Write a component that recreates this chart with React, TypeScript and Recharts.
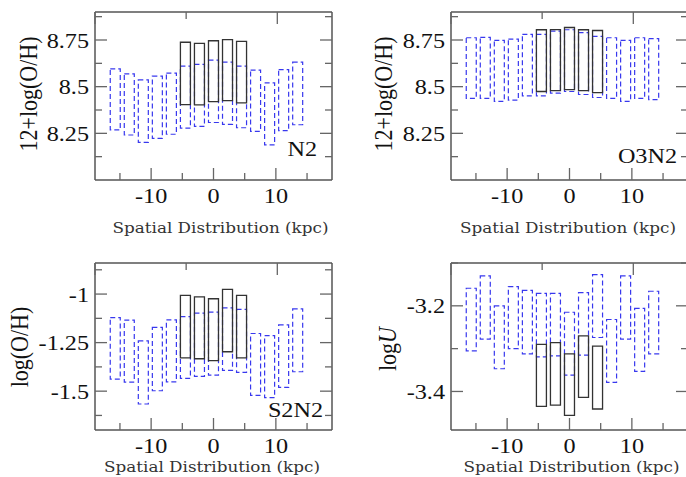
import { Bar, ComposedChart, XAxis, YAxis } from "recharts";

type Range = [number, number];

// bin centres along the disc (kpc)
const KPC = [-15.75, -13.5, -11.25, -9, -6.75, -4.5, -2.25, 0, 2.25, 4.5, 6.75, 9, 11.25, 13.5];
const CORE_KPC = [-4.5, -2.25, 0, 2.25, 4.5];

// [low, high] per bin: full sample (dashed) and inner bins (solid)
const N2_ALL: Range[] = [
  [8.268, 8.595], [8.241, 8.568], [8.202, 8.536], [8.223, 8.556], [8.245, 8.573],
  [8.278, 8.61], [8.287, 8.619], [8.308, 8.642], [8.298, 8.632], [8.28, 8.61],
  [8.261, 8.589], [8.188, 8.52], [8.264, 8.591], [8.296, 8.632],
];
const N2_CORE: Range[] = [[8.404, 8.738], [8.402, 8.732], [8.42, 8.746], [8.425, 8.752], [8.413, 8.743]];

const O3N2_ALL: Range[] = [
  [8.437, 8.762], [8.437, 8.764], [8.421, 8.748], [8.428, 8.755], [8.451, 8.78],
  [8.451, 8.78], [8.465, 8.798], [8.474, 8.805], [8.458, 8.79], [8.442, 8.769],
  [8.437, 8.762], [8.421, 8.748], [8.437, 8.762], [8.431, 8.757],
];
const O3N2_CORE: Range[] = [[8.474, 8.805], [8.479, 8.806], [8.484, 8.817], [8.479, 8.805], [8.468, 8.801]];

const S2N2_ALL: Range[] = [
  [-1.438, -1.121], [-1.453, -1.134], [-1.566, -1.241], [-1.498, -1.172], [-1.452, -1.133],
  [-1.434, -1.116], [-1.424, -1.098], [-1.417, -1.093], [-1.393, -1.071], [-1.403, -1.079],
  [-1.522, -1.203], [-1.533, -1.214], [-1.481, -1.159], [-1.4, -1.076],
];
const S2N2_CORE: Range[] = [[-1.329, -1.007], [-1.333, -1.014], [-1.343, -1.024], [-1.297, -0.976], [-1.329, -1.007]];

const LOGU_ALL: Range[] = [
  [-3.305, -3.159], [-3.278, -3.13], [-3.347, -3.2], [-3.3, -3.155], [-3.312, -3.164],
  [-3.319, -3.171], [-3.317, -3.171], [-3.362, -3.215], [-3.315, -3.169], [-3.274, -3.127],
  [-3.379, -3.232], [-3.278, -3.13], [-3.353, -3.206], [-3.312, -3.166],
];
const LOGU_CORE: Range[] = [[-3.435, -3.29], [-3.432, -3.286], [-3.456, -3.312], [-3.414, -3.27], [-3.441, -3.294]];

const X_TICKS = [-15, -10, -5, 0, 5, 10, 15];
const X_LABELS = [-10, 0, 10];
const X_DOMAIN: [number, number] = [-19, 19];
const OH_TICKS = [8.125, 8.25, 8.375, 8.5, 8.625, 8.75, 8.875];
const OH_LABELS = [8.25, 8.5, 8.75];
const LOGOH_TICKS = [-1.625, -1.5, -1.375, -1.25, -1.125, -1, -0.875];
const LOGOH_LABELS = [-1.5, -1.25, -1];
const LOGU_TICKS = [-3.4, -3.3, -3.2, -3.1];
const LOGU_LABELS = [-3.4, -3.2];

const BLUE = "#3838ee";
const DARK = "#333";
const FRAME = "#555";
const TICK = "#666";
const SERIF = '"Liberation Serif", "Times New Roman", serif';
const TITLE_FONT = '"DejaVu Serif", serif';
const STRETCH = 1.1;

type Row = { x: number; range: Range };

const toRows = (xs: number[], ranges: Range[]): Row[] => xs.map((x, i) => ({ x, range: ranges[i] }));

const has = (list: number[], v: number) => list.some((l) => Math.abs(l - v) < 1e-6);

// only ticks that sit on the list handed to the axis get drawn
const onTick = (list: number[], v: any) => typeof v === "number" && has(list, v);

function tickText(x: number, y: number, anchor: string, value: number) {
  return (
    <text
      transform={`translate(${x},${y}) scale(${STRETCH},1)`}
      textAnchor={anchor}
      fontFamily={SERIF}
      fontSize={22}
      fill="#111"
    >
      {String(value)}
    </text>
  );
}

function bottomTick(props: any) {
  const { x, y, payload } = props;
  if (!onTick(X_TICKS, payload?.value) || x < 40) return <g />;
  const major = has(X_LABELS, payload.value);
  return (
    <g>
      <line x1={x} x2={x} y1={y} y2={y - (major ? 12 : 7)} stroke={TICK} strokeWidth={1.3} />
      {major && tickText(x, y + 23, "middle", payload.value)}
    </g>
  );
}

function topTick(props: any) {
  const { x, y, payload } = props;
  if (!onTick(X_TICKS, payload?.value) || x < 40) return <g />;
  const major = has(X_LABELS, payload.value);
  return <line x1={x} x2={x} y1={y} y2={y + (major ? 12 : 7)} stroke={TICK} strokeWidth={1.3} />;
}

const leftTick = (ticks: number[], labels: number[]) => (props: any) => {
  const { x, y, payload } = props;
  if (!onTick(ticks, payload?.value) || x < 40) return <g />;
  const major = has(labels, payload.value);
  return (
    <g>
      <line x1={x} x2={x + (major ? 12 : 7)} y1={y} y2={y} stroke={TICK} strokeWidth={1.3} />
      {major && tickText(x - 6, y + 7.5, "end", payload.value)}
    </g>
  );
};

const rightTick = (ticks: number[], labels: number[]) => (props: any) => {
  const { x, y, payload } = props;
  if (!onTick(ticks, payload?.value) || x < 40) return <g />;
  const major = has(labels, payload.value);
  return <line x1={x} x2={x - (major ? 12 : 7)} y1={y} y2={y} stroke={TICK} strokeWidth={1.3} />;
};

type Margin = { top: number; right: number; bottom: number; left: number };

type PanelProps = {
  left: number;
  top: number;
  width: number;
  height: number;
  margin: Margin; // plot box inset
  all: Range[];
  core: Range[];
  yDomain: [number, number];
  yTicks: number[];
  yLabels: number[];
};

function Panel({ left, top, width, height, margin, all, core, yDomain, yTicks, yLabels }: PanelProps) {
  const axisLine = { stroke: FRAME, strokeWidth: 1.5 };
  // the framed chart gives 1px to each of its four axes
  const framed = {
    top: margin.top - 1,
    right: margin.right - 1,
    bottom: margin.bottom - 1,
    left: margin.left - 1,
  };
  const layer = { position: "absolute" as const, left: 0, top: 0 };

  return (
    <div style={{ position: "absolute", left, top, width, height, overflow: "hidden" }}>
      <div style={layer}>
        <ComposedChart width={width} height={height} data={toRows(KPC, all)} margin={framed}>
          <XAxis
            dataKey="x"
            type="number"
            domain={X_DOMAIN}
            ticks={X_TICKS}
            interval={0}
            height={1}
            tickSize={0}
            tickMargin={0}
            tickLine={false}
            axisLine={axisLine}
            tick={bottomTick}
          />
          <XAxis
            xAxisId="top"
            orientation="top"
            type="number"
            domain={X_DOMAIN}
            ticks={X_TICKS}
            interval={0}
            height={1}
            tickSize={0}
            tickMargin={0}
            tickLine={false}
            axisLine={axisLine}
            tick={topTick}
          />
          <YAxis
            type="number"
            domain={yDomain}
            allowDataOverflow
            ticks={yTicks}
            interval={0}
            width={1}
            tickSize={0}
            tickMargin={0}
            tickLine={false}
            axisLine={axisLine}
            tick={leftTick(yTicks, yLabels)}
          />
          <YAxis
            yAxisId="right"
            orientation="right"
            type="number"
            domain={yDomain}
            allowDataOverflow
            ticks={yTicks}
            interval={0}
            width={1}
            tickSize={0}
            tickMargin={0}
            tickLine={false}
            axisLine={axisLine}
            tick={rightTick(yTicks, yLabels)}
          />
          <Bar
            dataKey="range"
            barSize={10}
            fill="none"
            stroke={BLUE}
            strokeWidth={1.2}
            strokeDasharray="5 3"
            isAnimationActive={false}
          />
        </ComposedChart>
      </div>
      {/* inner bins, drawn over the same plot box */}
      <div style={layer}>
        <ComposedChart width={width} height={height} data={toRows(CORE_KPC, core)} margin={margin}>
          <XAxis dataKey="x" type="number" domain={X_DOMAIN} hide />
          <YAxis type="number" domain={yDomain} allowDataOverflow hide />
          <Bar
            dataKey="range"
            barSize={10}
            fill="none"
            stroke={DARK}
            strokeWidth={1.3}
            isAnimationActive={false}
          />
        </ComposedChart>
      </div>
    </div>
  );
}

const TOP_LEFT: Margin = { top: 12, right: 11, bottom: 60, left: 95 };
const TOP_RIGHT: Margin = { top: 12, right: 0, bottom: 60, left: 108 };
const BOTTOM_LEFT: Margin = { top: 23, right: 11, bottom: 47, left: 95 };
const BOTTOM_RIGHT: Margin = { top: 23, right: 0, bottom: 47, left: 108 };

function VTitle({ x, y, children }: { x: number; y: number; children: any }) {
  return (
    <text
      transform={`translate(${x},${y}) scale(${STRETCH},1) rotate(-90)`}
      textAnchor="middle"
      fontFamily={SERIF}
      fontSize={22}
      fill="#111"
    >
      {children}
    </text>
  );
}

function XTitle({ x, y }: { x: number; y: number }) {
  return (
    <text
      transform={`translate(${x},${y}) scale(1.12,1)`}
      textAnchor="middle"
      fontFamily={TITLE_FONT}
      fontSize={15}
      fill="#333"
    >
      Spatial Distribution (kpc)
    </text>
  );
}

function Tag({ x, y, text }: { x: number; y: number; text: string }) {
  return (
    <text
      transform={`translate(${x},${y}) scale(${STRETCH},1)`}
      textAnchor="end"
      fontFamily={SERIF}
      fontSize={22}
      fill="#111"
    >
      {text}
    </text>
  );
}

export default function App() {
  return (
    <div
      style={{
        position: "absolute",
        left: 0,
        top: 0,
        width: 686,
        height: 477,
        overflow: "hidden",
        background: "#fff",
      }}
    >
      <Panel left={0} top={0} width={343} height={240} margin={TOP_LEFT}
        all={N2_ALL} core={N2_CORE} yDomain={[8.0, 8.9]} yTicks={OH_TICKS} yLabels={OH_LABELS} />
      <Panel left={343} top={0} width={345} height={240} margin={TOP_RIGHT}
        all={O3N2_ALL} core={O3N2_CORE} yDomain={[8.0, 8.9]} yTicks={OH_TICKS} yLabels={OH_LABELS} />
      <Panel left={0} top={240} width={343} height={237} margin={BOTTOM_LEFT}
        all={S2N2_ALL} core={S2N2_CORE} yDomain={[-1.7, -0.84]} yTicks={LOGOH_TICKS} yLabels={LOGOH_LABELS} />
      <Panel left={343} top={240} width={345} height={237} margin={BOTTOM_RIGHT}
        all={LOGU_ALL} core={LOGU_CORE} yDomain={[-3.49, -3.1]} yTicks={LOGU_TICKS} yLabels={LOGU_LABELS} />

      <svg width={686} height={477} style={{ position: "absolute", left: 0, top: 0, pointerEvents: "none" }}>
        <VTitle x={36.5} y={94}>12+log(O/H)</VTitle>
        <VTitle x={391.5} y={94}>12+log(O/H)</VTitle>
        <VTitle x={28} y={347}>log(O/H)</VTitle>
        <VTitle x={395.5} y={349}>
          log<tspan fontStyle="italic">U</tspan>
        </VTitle>

        <XTitle x={220.5} y={233} />
        <XTitle x={568} y={233} />
        <XTitle x={212} y={472} />
        <XTitle x={571.5} y={472} />

        <Tag x={317} y={156} text="N2" />
        <Tag x={677} y={163} text="O3N2" />
        <Tag x={323} y={417} text="S2N2" />
      </svg>
    </div>
  );
}
